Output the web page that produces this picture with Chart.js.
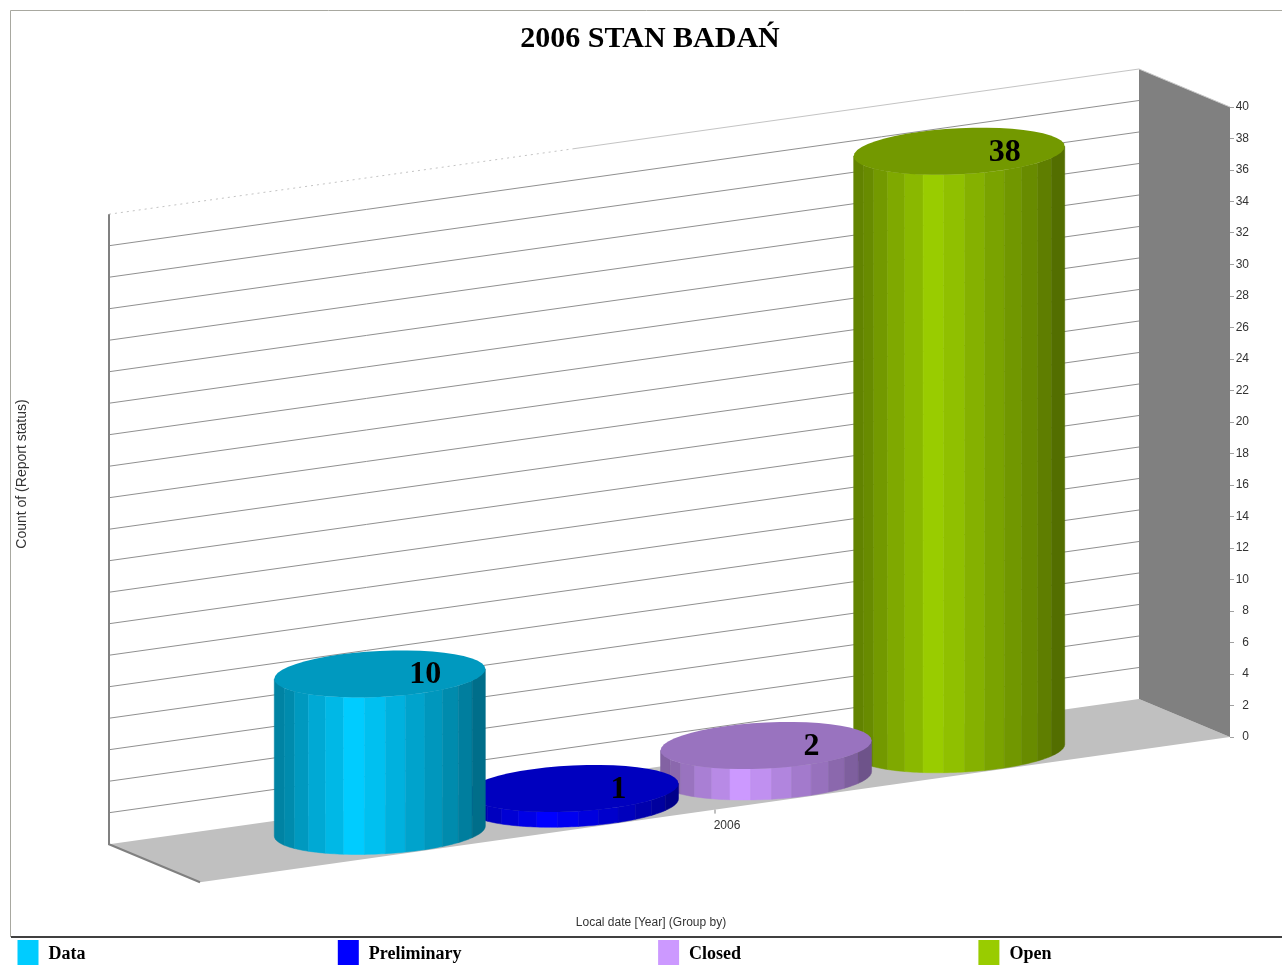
<!DOCTYPE html>
<html>
<head>
<meta charset="utf-8">
<title>2006 STAN BADAŃ</title>
<script src="https://cdn.jsdelivr.net/npm/chart.js@4/dist/chart.umd.min.js"></script>
<style>
  html, body { margin: 0; padding: 0; background: #fff; overflow: hidden; }
  canvas { display: block; }
</style>
</head>
<body>
<canvas id="myChart" width="1282" height="965"></canvas>
<script>
var categories = ['2006'];
var dataValues = [10];
var preliminaryValues = [1];
var closedValues = [2];
var openValues = [38];
var seriesNames = ['Data', 'Preliminary', 'Closed', 'Open'];
var seriesColors = ['#00ccff', '#0000ff', '#cc99ff', '#99cc00'];
var axisTitleX = 'Local date [Year] (Group by)';
var axisTitleY = 'Count of (Report status)';

// fake 3D: the depth of the box and the slant of the floor, in pixels
var depthX = 91;
var depthY = 38;
var slope = 0.141;
var ellipseRy = 23;
var ellipseTilt = 0.047;
// cylinder facets, angles round the front half and how bright each one is
var facetAngles = [180, 155, 144, 132.6, 121, 110, 98.4, 87, 76, 64.7, 53.7, 42, 29, 0];
var facetShades = [0.64, 0.68, 0.75, 0.83, 0.9, 1, 0.94, 0.87, 0.8, 0.74, 0.68, 0.62, 0.54];

function shade(hex, f) {
    var n = parseInt(hex.slice(1), 16);
    return 'rgb(' + Math.round((n >> 16 & 255) * f) + ',' + Math.round((n >> 8 & 255) * f) + ',' + Math.round((n & 255) * f) + ')';
}

// scale x + scale y + depth (0 front, 1 back) -> picture position
function project(chart, px, py, d) {
    return {
        x: px - d * depthX,
        y: py + (chart.chartArea.right - px) * slope - d * depthY
    };
}

function rimPoint(cx, cy, a, deg) {
    var t = deg * Math.PI / 180;
    return {
        x: cx + a * Math.cos(t),
        y: cy + ellipseRy * Math.sin(t) - ellipseTilt * a * Math.cos(t)
    };
}

function drawCylinder(ctx, chart, bar, color) {
    var a = bar.width / 2;
    var top = project(chart, bar.x, bar.y, 0.5);
    var bottom = project(chart, bar.x, bar.base, 0.5);
    for (var i = 0; i < facetShades.length; i++) {
        ctx.beginPath();
        var first = rimPoint(top.x, top.y, a, facetAngles[i]);
        ctx.moveTo(first.x, first.y);
        var second = rimPoint(top.x, top.y, a, facetAngles[i + 1]);
        ctx.lineTo(second.x, second.y);
        // bottom edge follows the curve
        for (var s = 6; s >= 0; s--) {
            var deg = facetAngles[i] + (facetAngles[i + 1] - facetAngles[i]) * s / 6;
            var p = rimPoint(bottom.x, bottom.y, a, deg);
            ctx.lineTo(p.x, p.y);
        }
        ctx.closePath();
        ctx.fillStyle = shade(color, facetShades[i]);
        ctx.strokeStyle = ctx.fillStyle;
        ctx.lineWidth = 0.5;
        ctx.fill();
        ctx.stroke();
    }
    ctx.beginPath();
    for (var k = 0; k < 48; k++) {
        var q = rimPoint(top.x, top.y, a, k * 7.5);
        if (k === 0) ctx.moveTo(q.x, q.y); else ctx.lineTo(q.x, q.y);
    }
    ctx.closePath();
    ctx.fillStyle = shade(color, 0.75);
    ctx.fill();
}

var boxPlugin = {
    id: 'box3d',
    beforeDraw: function (chart) {
        var ctx = chart.ctx;
        // outer frame of the report
        ctx.save();
        ctx.fillStyle = '#fff';
        ctx.fillRect(0, 0, chart.width, chart.height);
        ctx.strokeStyle = '#a8a8a0';
        ctx.lineWidth = 1;
        ctx.beginPath();
        ctx.moveTo(10.5, 937);
        ctx.lineTo(10.5, 10.5);
        ctx.lineTo(chart.width, 10.5);
        ctx.stroke();
        ctx.strokeStyle = '#404040';
        ctx.lineWidth = 2;
        ctx.beginPath();
        ctx.moveTo(11, 937);
        ctx.lineTo(chart.width, 937);
        ctx.stroke();
        ctx.restore();
    },
    beforeDatasetsDraw: function (chart) {
        var ctx = chart.ctx;
        var area = chart.chartArea;
        var y = chart.scales.y;
        var zero = y.getPixelForValue(y.min);
        var top = y.getPixelForValue(y.max);
        var backL0 = project(chart, area.left, zero, 1);
        var backR0 = project(chart, area.right, zero, 1);
        var frontL0 = project(chart, area.left, zero, 0);
        var frontR0 = project(chart, area.right, zero, 0);
        var backRT = project(chart, area.right, top, 1);
        var frontRT = project(chart, area.right, top, 0);
        var backLT = project(chart, area.left, top, 1);
        ctx.save();

        // floor
        ctx.fillStyle = '#c0c0c0';
        ctx.beginPath();
        ctx.moveTo(backL0.x, backL0.y);
        ctx.lineTo(backR0.x, backR0.y);
        ctx.lineTo(frontR0.x, frontR0.y);
        ctx.lineTo(frontL0.x, frontL0.y);
        ctx.closePath();
        ctx.fill();

        // right side wall
        ctx.fillStyle = '#808080';
        ctx.beginPath();
        ctx.moveTo(backRT.x, backRT.y);
        ctx.lineTo(frontRT.x, frontRT.y);
        ctx.lineTo(frontR0.x, frontR0.y);
        ctx.lineTo(backR0.x, backR0.y);
        ctx.closePath();
        ctx.fill();
        ctx.strokeStyle = '#c8c8c8';
        ctx.lineWidth = 1;
        ctx.beginPath();
        ctx.moveTo(backRT.x, backRT.y);
        ctx.lineTo(frontRT.x, frontRT.y);
        ctx.stroke();

        // grid on the back wall, one line per tick
        y.ticks.forEach(function (tick) {
            var py = y.getPixelForValue(tick.value);
            var a = project(chart, area.left, py, 1);
            var b = project(chart, area.right, py, 1);
            if (tick.value === 0) return;
            if (tick.value === y.max) {
                var mid = project(chart, area.left + (area.right - area.left) * 0.45, py, 1);
                ctx.strokeStyle = '#c4c4c4';
                ctx.lineWidth = 1;
                ctx.setLineDash([2, 4]);
                ctx.beginPath();
                ctx.moveTo(a.x, a.y);
                ctx.lineTo(mid.x, mid.y);
                ctx.stroke();
                ctx.setLineDash([]);
                ctx.beginPath();
                ctx.moveTo(mid.x, mid.y);
                ctx.lineTo(b.x, b.y);
                ctx.stroke();
                return;
            }
            ctx.strokeStyle = '#909090';
            ctx.lineWidth = 1;
            ctx.beginPath();
            ctx.moveTo(a.x, a.y);
            ctx.lineTo(b.x, b.y);
            ctx.stroke();
        });

        // left wall edge and front-left floor edge
        ctx.strokeStyle = '#808080';
        ctx.lineWidth = 2;
        ctx.beginPath();
        ctx.moveTo(backLT.x, backLT.y);
        ctx.lineTo(backL0.x, backL0.y);
        ctx.lineTo(frontL0.x, frontL0.y);
        ctx.stroke();

        // category tick and label on the floor edge
        var x = chart.scales.x;
        categories.forEach(function (c, i) {
            var cp = project(chart, x.getPixelForValue(i), zero, 0);
            ctx.strokeStyle = '#808080';
            ctx.lineWidth = 1;
            ctx.beginPath();
            ctx.moveTo(cp.x, cp.y);
            ctx.lineTo(cp.x, cp.y + 4);
            ctx.stroke();
            ctx.fillStyle = '#333';
            ctx.font = '12px "Liberation Sans"';
            ctx.textAlign = 'center';
            ctx.textBaseline = 'middle';
            ctx.fillText(c, cp.x + 12, cp.y + 16);
        });
        ctx.restore();
    },
    beforeDatasetDraw: function (chart, args) {
        var meta = args.meta;
        var ctx = chart.ctx;
        ctx.save();
        meta.data.forEach(function (bar) {
            drawCylinder(ctx, chart, bar, chart.data.datasets[args.index].backgroundColor);
        });
        ctx.restore();
        return false;
    },
    afterDatasetsDraw: function (chart) {
        var ctx = chart.ctx;
        ctx.save();
        // value labels on the cylinder tops
        ctx.fillStyle = '#000';
        ctx.font = 'bold 32px "Liberation Serif"';
        ctx.textAlign = 'center';
        ctx.textBaseline = 'middle';
        chart.data.datasets.forEach(function (ds, i) {
            chart.getDatasetMeta(i).data.forEach(function (bar, j) {
                var top = project(chart, bar.x, bar.y, 0.5);
                ctx.fillText(ds.data[j], bar.x, top.y + 1);
            });
        });

        // axis titles
        ctx.fillStyle = '#333';
        ctx.font = '12px "Liberation Sans"';
        ctx.fillText(axisTitleX, 651, 923);
        ctx.save();
        ctx.translate(22, 474);
        ctx.rotate(-Math.PI / 2);
        ctx.font = '14px "Liberation Sans"';
        ctx.fillText(axisTitleY, 0, 0);
        ctx.restore();

        // legend on fixed columns
        ctx.font = 'bold 18px "Liberation Serif"';
        ctx.textAlign = 'left';
        chart.data.datasets.forEach(function (ds, i) {
            var lx = 17.5 + i * 320.3;
            ctx.fillStyle = ds.backgroundColor;
            ctx.fillRect(lx, 940, 21, 25);
            ctx.fillStyle = '#000';
            ctx.fillText(ds.label, lx + 31, 954);
        });
        ctx.restore();
    }
};

var ctx = document.getElementById('myChart').getContext('2d');

var myChart = new Chart(ctx, {
    type: 'bar',
    data: {
        labels: categories,
        datasets: [
            { label: seriesNames[0], data: dataValues, backgroundColor: seriesColors[0] },
            { label: seriesNames[1], data: preliminaryValues, backgroundColor: seriesColors[1] },
            { label: seriesNames[2], data: closedValues, backgroundColor: seriesColors[2] },
            { label: seriesNames[3], data: openValues, backgroundColor: seriesColors[3] }
        ]
    },
    options: {
        responsive: false,
        animation: false,
        categoryPercentage: 0.75,
        barPercentage: 1.093,
        layout: { padding: { left: 51, right: 33, top: 0, bottom: 228 } },
        plugins: {
            legend: { display: false },
            tooltip: { enabled: false },
            title: {
                display: true,
                text: '2006 STAN BADAŃ',
                color: '#000',
                font: { family: '"Liberation Serif"', size: 30, weight: 'bold' },
                padding: { top: 21.5, bottom: 49.5 }
            }
        },
        scales: {
            x: { display: false },
            y: {
                position: 'right',
                min: 0,
                max: 40,
                afterFit: function (scale) { scale.width = 19; },
                grid: { drawOnChartArea: false, tickLength: 4, color: '#a0a0a0' },
                border: { display: false },
                ticks: {
                    stepSize: 2,
                    autoSkip: false,
                    padding: 3,
                    crossAlign: 'far',
                    color: '#333',
                    font: { family: '"Liberation Sans"', size: 12 }
                }
            },
            // empty axis, only holds the room left of the box
            yLeft: {
                axis: 'y',
                position: 'left',
                min: 0,
                max: 40,
                afterFit: function (scale) { scale.width = 149; },
                grid: { display: false },
                border: { display: false },
                ticks: { display: false }
            }
        }
    },
    plugins: [boxPlugin]
});
</script>
</body>
</html>
